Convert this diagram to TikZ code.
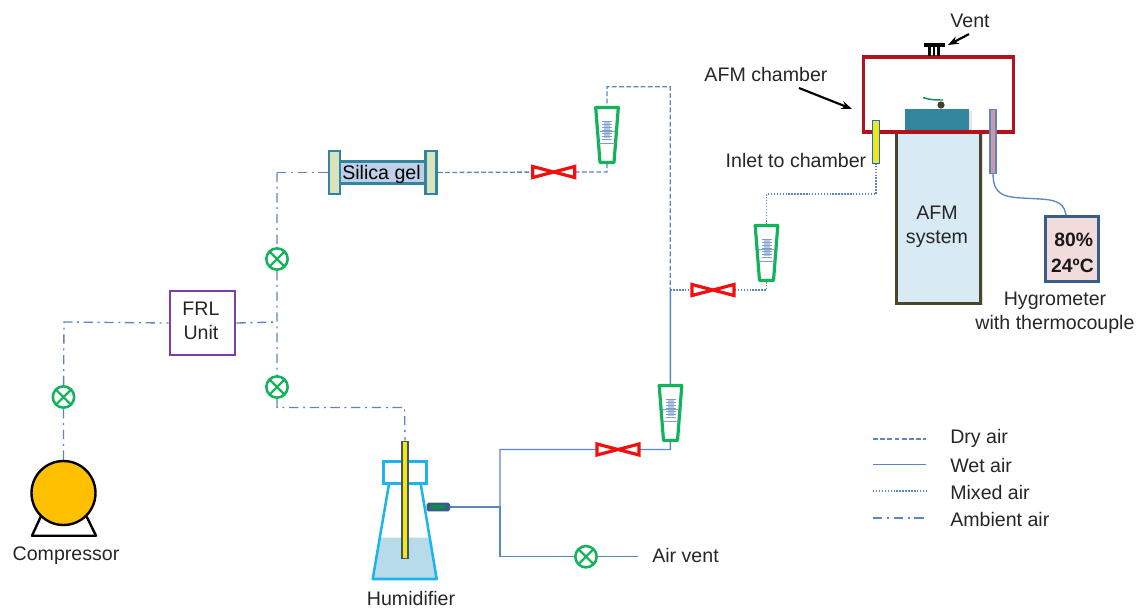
\documentclass[tikz,border=0pt]{standalone}
\usepackage{fontspec}
\setmainfont{Liberation Sans}
\usetikzlibrary{backgrounds,arrows.meta}
\definecolor{pipe}{HTML}{5B86BF}
\definecolor{vgreen}{HTML}{12B35A}
\definecolor{vred}{HTML}{F01010}
\definecolor{teal}{HTML}{31859C}
\definecolor{frlpurple}{HTML}{7A3FA8}
\definecolor{flask}{HTML}{1CB4EA}
\definecolor{water}{HTML}{B7DBE8}
\definecolor{tube}{HTML}{44546A}
\tikzset{
  lbl/.style={font=\fontsize{14.7pt}{18pt}\selectfont,text=black!85,inner sep=0pt,align=center},
  pipeline/.style={draw=pipe,line width=1pt},
  dryair/.style={pipeline,dash pattern=on 3.6pt off 1.8pt},
  wetair/.style={pipeline,line width=1.1pt},
  mixedair/.style={pipeline,dash pattern=on 1.1pt off 1.1pt},
  ambientair/.style={pipeline,dash pattern=on 7pt off 3.5pt on 1.5pt off 3.5pt},
  ballvalve/.style={circle,draw=vgreen,line width=1.9pt,fill=white,minimum size=16pt,inner sep=0pt,
    path picture={\draw[vgreen,line width=1.6pt]
      (path picture bounding box.south west)--(path picture bounding box.north east)
      (path picture bounding box.north west)--(path picture bounding box.south east);}},
  callout/.style={draw=black,line width=1.6pt,-{Stealth[length=8pt,width=6pt]}},
  pics/redvalve/.style={code={
    \draw[vred,line width=2.4pt,fill=white,line join=miter]
      (-21,-5.5)--(21,5.5)--(21,-5.5)--(-21,5.5)--cycle;}},
  pics/rotameter/.style={code={
    \draw[vgreen,line width=2.4pt,fill=white,line join=round]
      (-11.3,-27.5)--(11.3,-27.5)--(7,27.5)--(-7,27.5)--cycle;
    \fill[pipe!45] (-3,-14) rectangle (3,3);
    \foreach \yy in {-14,-11,...,4}{\draw[pipe!80,line width=0.6pt] (-5,\yy)--(5,\yy);}
    \draw[pipe!80,line width=0.7pt] (-7.5,-4)--(7.5,-4) (-8,8)--(8,8);
  }},
}
\begin{document}
\begin{tikzpicture}[x=0.75pt,y=-0.75pt]
\useasboundingbox (0,0) rectangle (1139,608);

% junctions and symbol centres
\coordinate (rv1) at (553.7,172);
\coordinate (rv2) at (713,290);
\coordinate (rv3) at (618,449.5);
\coordinate (rm1) at (607,135);
\coordinate (rm2) at (766.5,253);
\coordinate (rm3) at (670.5,413);
\coordinate (jA) at (277,322);
\coordinate (jB) at (670.3,290);
\coordinate (jC) at (500,507);
\coordinate (c1) at (64,322);
\coordinate (c2) at (277,172.5);
\coordinate (c3) at (277,407.5);
\coordinate (c4) at (404.5,407.5);
\coordinate (c5) at (607,172);
\coordinate (c6) at (607,86.7);
\coordinate (c7) at (670.3,86.7);
\coordinate (c8) at (670.3,449.5);
\coordinate (c9) at (500,449.5);
\coordinate (c10) at (500,556.7);
\coordinate (c11) at (766.5,290);
\coordinate (c12) at (766.5,194);
\coordinate (c13) at (876,194);
\coordinate (ventend) at (638,556.7);

% AFM
\fill[black!22,opacity=.6] (897,133) rectangle (983,305);
\node[draw={rgb,255:red,74;green,69;blue,42},line width=2.4pt,fill={rgb,255:red,216;green,234;blue,243},minimum width=84.5*0.75pt,minimum height=172*0.75pt,inner sep=0pt,anchor=north west] (afm) at (894.5,130) {};
\node[lbl] (afmtext) at (937,226.5) {AFM\\system};
\fill[black!15,opacity=.7] (908,111) rectangle (972,133);
\node[fill=teal,minimum width=64*0.75pt,minimum height=22*0.75pt,inner sep=0pt,anchor=north west] (stage) at (905,108.5) {};
\draw[vgreen!80!black,line width=1.1pt] (923,97.5) .. controls (930,100) and (936,100) .. (943,100);
\fill[black!70!olive] (941,105) circle (3.6);
% chamber
\draw[black!18,line width=2.2pt] (864,58) rectangle (1014,132);
\node[draw={rgb,255:red,176;green,18;blue,30},line width=2.4pt,minimum width=150*0.75pt,minimum height=75*0.75pt,inner sep=0pt,anchor=north west] (chamber) at (861.7,55.3) {};
% vent
\draw[black,line width=3.2pt] (924,45)--(945,45);
\draw[black,line width=2pt] (929.5,45)--(929.5,56) (938.5,45)--(938.5,56);
\draw[black,line width=0.9pt] (934,45)--(934,56);
\node[lbl,anchor=center] (ventlabel) at (970,21) {Vent};
\coordinate (ventarrow) at (948,45);
\draw[callout] (ventlabel.south)++(-1,6)--(ventarrow);
\node[lbl] (chamberlabel) at (766,74.5) {AFM chamber};
\coordinate (chamberarrow) at (852,109);
\draw[callout] (799,88)--(chamberarrow);
% inlet and sensor
\node[draw=flask!60!blue,line width=.8pt,fill=yellow!95!black,minimum width=7*0.75pt,minimum height=43*0.75pt,inner sep=0pt,anchor=north] (inlet) at (876,119.5) {};
\node[lbl] (inlettext) at (796,160) {Inlet to chamber};
\node[draw=pipe,line width=.8pt,fill={rgb,255:red,207;green,150;blue,165},minimum width=6*0.75pt,minimum height=64*0.75pt,inner sep=0pt,anchor=north] (sensor) at (993,108.5) {};
% hygrometer
\node[draw={rgb,255:red,56;green,93;blue,138},line width=2.4pt,fill={rgb,255:red,242;green,220;blue,219},minimum width=53*0.75pt,minimum height=65*0.75pt,inner sep=0pt,anchor=north west] (hygro) at (1043.5,215) {};
\node[lbl,text=black!90,font=\fontsize{14.5pt}{19pt}\selectfont\bfseries] (hygrotext) at (1072.5,253) {\hspace*{2pt}80\%\\24ºC};
\node[lbl,font=\fontsize{14.7pt}{18.2pt}\selectfont] (hygrolabel) at (1055,313) {Hygrometer\\with thermocouple};
\draw[pipe,line width=1pt] (sensor.south) .. controls (993,200) and (1010,197) .. (1040,199) .. controls (1060,200) and (1064,205) .. (hygro.north -| 1066,215);

% compressor
\draw[black,line width=1.8pt,line join=round] (40.7,516.7)--(32,535.7)--(96,535.7)--(86.7,516.7);
\node[circle,draw=black,line width=1.8pt,fill={rgb,255:red,255;green,192;blue,0},minimum size=48pt,inner sep=0pt] (comp) at (63.5,493) {};
\node[lbl] (comptext) at (66,556) {Compressor};
\node[ballvalve] (bv1) at (63.5,397) {};
\node[draw=frlpurple,line width=2.2pt,fill=white,minimum width=65*0.75pt,minimum height=64*0.75pt,inner sep=0pt] (frl) at (202.5,323) {};
\node[lbl] (frltext) at (201,321) {FRL\\Unit};
\node[ballvalve] (bv2) at (277,259) {};
\node[ballvalve] (bv3) at (277,387) {};

% silica gel
\node[draw=teal,line width=2.2pt,fill={rgb,255:red,190;green,208;blue,232},minimum width=86*0.75pt,minimum height=22*0.75pt,inner sep=0pt] (silica) at (383,172.5) {};
\node[lbl,text=black] (silicatext) at (381.5,174) {Silica gel};
\node[draw=teal,line width=2.2pt,fill={rgb,255:red,215;green,228;blue,188},minimum width=11*0.75pt,minimum height=43*0.75pt,inner sep=0pt] (flA) at (334.5,172.5) {};
\node[draw=teal,line width=2.2pt,fill={rgb,255:red,215;green,228;blue,188},minimum width=11*0.75pt,minimum height=43*0.75pt,inner sep=0pt] (flB) at (431,172.5) {};

% humidifier
\fill[water] (379.5,537.7)--(430,537.7)--(436.5,579)--(373,579)--cycle;
\draw[flask,line width=1.9pt,line join=round] (389,484)--(372.7,579)--(436.7,579)--(420.7,484);
\node[draw=flask,line width=1.9pt,minimum width=43*0.75pt,minimum height=22*0.75pt,inner sep=0pt] (cap) at (405,472.5) {};
\node[draw=tube,line width=1.2pt,fill=yellow!95!black,minimum width=6*0.75pt,minimum height=117*0.75pt,inner sep=0pt,anchor=north] (htube) at (405,440.5) {};
\node[draw={rgb,255:red,56;green,93;blue,138},line width=1.2pt,fill={rgb,255:red,56;green,93;blue,138},rounded corners=1pt,minimum width=22*0.75pt,minimum height=7*0.75pt,inner sep=0pt,anchor=west,
  path picture={\fill[vgreen!80!black] ([xshift=2pt,yshift=1.2pt]path picture bounding box.south west) rectangle ([xshift=-3pt,yshift=-1.2pt]path picture bounding box.north east);}] (outlet) at (426.5,507) {};
\node[lbl] (humtext) at (411,598) {Humidifier};
\node[ballvalve] (bv4) at (586,556.7) {};
\node[lbl,anchor=west] (venttext) at (652,555) {Air vent};

% flow symbols
\pic at (rv1) {redvalve};
\pic at (rv2) {redvalve};
\pic at (rv3) {redvalve};
\pic at (rm1) {rotameter};
\pic at (rm2) {rotameter};
\pic at (rm3) {rotameter};

% legend
\coordinate (lg1a) at (873,439); \coordinate (lg1b) at (926,439);
\coordinate (lg2a) at (873,464.5); \coordinate (lg2b) at (926,464.5);
\coordinate (lg3a) at (873,491); \coordinate (lg3b) at (926,491);
\coordinate (lg4a) at (873,518); \coordinate (lg4b) at (926,518);
\draw[dryair] (lg1a)--(lg1b);
\draw[wetair] (lg2a)--(lg2b);
\draw[mixedair] (lg3a)--(lg3b);
\draw[ambientair] (lg4a)--(lg4b);
\node[lbl,anchor=west] (lgA) at (950,438) {Dry air};
\node[lbl,anchor=west] (lgB) at (950,465) {Wet air};
\node[lbl,anchor=west] (lgC) at (950,492) {Mixed air};
\node[lbl,anchor=west] (lgD) at (950,519) {Ambient air};

% connectors, beneath the symbols
\begin{scope}[on background layer]
\draw[ambientair] (comp.north)--(bv1)--(c1)--(frl.west);
\draw[ambientair] (frl.east)--(jA);
\draw[ambientair] (c2)--(bv2)--(jA)--(bv3)--(c3)--(c4)--(htube.north);
\draw[ambientair] (c2)--(flA.west);
\draw[dryair] (flB.east)--(rv1)--(c5)--(rm1)--(c6)--(c7)--(jB);
\draw[mixedair] (jB)--(rv2)--(c11)--(rm2)--(c12)--(c13)--(inlet.south);
\draw[wetair] (jB)--(rm3)--(c8)--(rv3)--(c9)--(jC);
\draw[wetair] (outlet.east)--(jC)--(c10)--(bv4)--(ventend);
\end{scope}
\end{tikzpicture}
\end{document}
